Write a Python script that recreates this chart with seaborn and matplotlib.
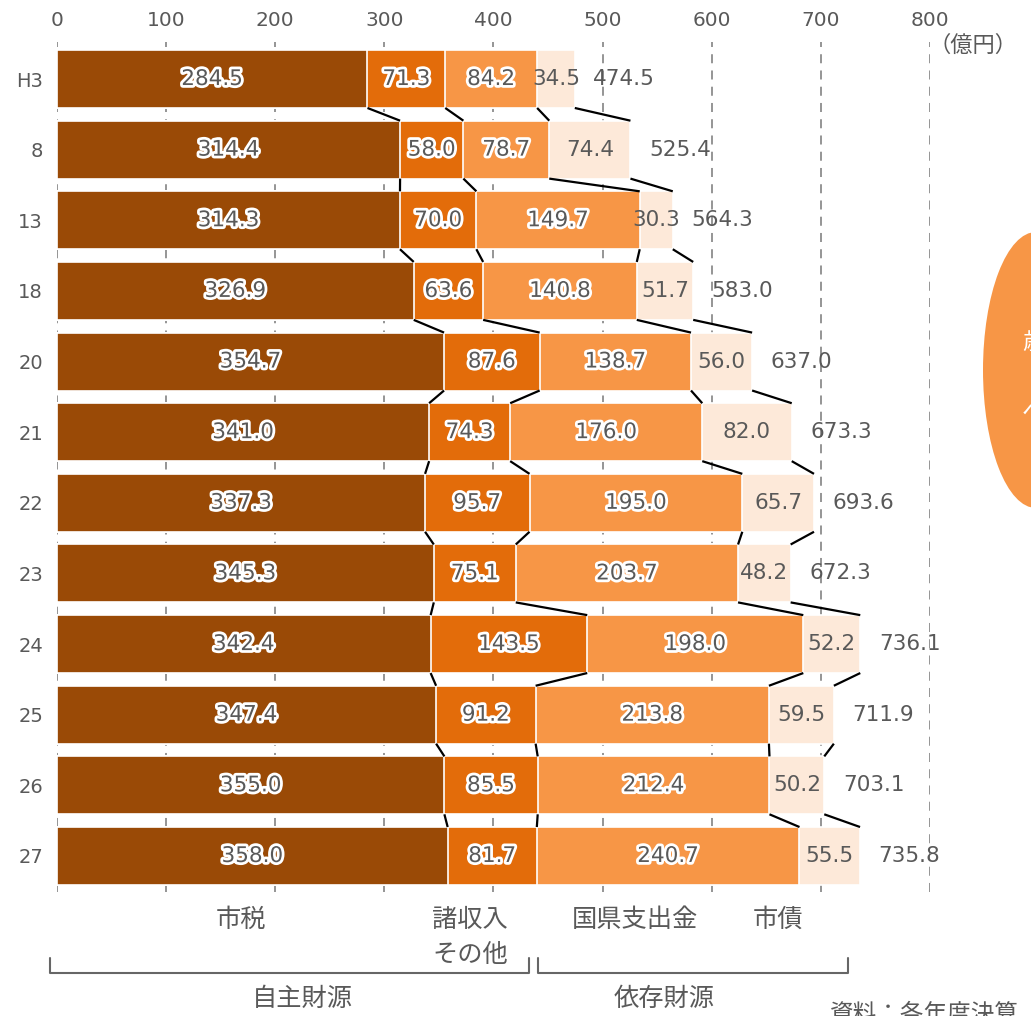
import matplotlib
matplotlib.use("Agg")
import matplotlib.pyplot as plt
import matplotlib.patheffects as pe
from matplotlib.patches import Ellipse
from matplotlib.lines import Line2D
import seaborn as sns
import pandas as pd
import numpy as np

# ---- data ----
years = ["H3", "8", "13", "18", "20", "21", "22", "23", "24", "25", "26", "27"]
shizei = [284.5, 314.4, 314.3, 326.9, 354.7, 341.0, 337.3, 345.3, 342.4, 347.4, 355.0, 358.0]
shoshunyu = [71.3, 58.0, 70.0, 63.6, 87.6, 74.3, 95.7, 75.1, 143.5, 91.2, 85.5, 81.7]
kokken = [84.2, 78.7, 149.7, 140.8, 138.7, 176.0, 195.0, 203.7, 198.0, 213.8, 212.4, 240.7]
shisai = [34.5, 74.4, 30.3, 51.7, 56.0, 82.0, 65.7, 48.2, 52.2, 59.5, 50.2, 55.5]
totals = [474.5, 525.4, 564.3, 583.0, 637.0, 673.3, 693.6, 672.3, 736.1, 711.9, 703.1, 735.8]
x_ticks = [0, 100, 200, 300, 400, 500, 600, 700, 800]

series = [shizei, shoshunyu, kokken, shisai]
colors = ["#9A4A06", "#E36C0A", "#F79646", "#FDE9D9"]

sns.set_theme(style="white")
plt.rcParams['font.family'] = ['DejaVu Sans', 'Noto Sans CJK JP']
CJK = ['Noto Sans CJK JP', 'DejaVu Sans']
TXT = "#595959"

W, H = 1031, 1016
fig = plt.figure(figsize=(W / 100, H / 100), dpi=100)
ax_left, ax_right = 57, 930
ax_top, ax_bottom = 42, 892
ax = fig.add_axes([ax_left / W, 1 - ax_bottom / H, (ax_right - ax_left) / W, (ax_bottom - ax_top) / H])

cums = np.cumsum(np.array(series), axis=0)  # 4 x 12
df = pd.DataFrame({"year": years})
bar_h = 0.82
for k in range(3, -1, -1):
    df["v"] = cums[k]
    sns.barplot(data=df, x="v", y="year", order=years, orient="h", color=colors[k],
                saturation=1, width=bar_h, edgecolor="white", linewidth=1.2, ax=ax, zorder=2)

# grid
ax.set_xlim(0, 800)
ax.set_ylim(11 + (ax_bottom - 856) / 70.6, -(79 - ax_top) / 70.6)
ax.set_xticks(x_ticks)
ax.xaxis.tick_top()
ax.set_axisbelow(True)
ax.grid(False)
for xv in x_ticks:
    ax.axvline(xv, color="#8c8c8c", lw=1.3, linestyle=(0, (5, 4)), zorder=0)
for s in ax.spines.values():
    s.set_visible(False)
ax.tick_params(axis="x", length=0, labelsize=14.5, labelcolor=TXT, pad=9)
ax.tick_params(axis="y", length=0, labelsize=14, labelcolor=TXT, pad=10)
ax.set_xlabel("")
ax.set_ylabel("")

# connector lines
n = len(years)
for k in range(4):
    for i in range(n - 1):
        ax.plot([cums[k][i], cums[k][i + 1]], [i + bar_h / 2, i + 1 - bar_h / 2],
                color="black", lw=1.6, zorder=3, solid_capstyle="butt")

# labels
glow = [pe.withStroke(linewidth=4, foreground="white")]
for i in range(n):
    start = 0
    for k in range(4):
        v = series[k][i]
        ax.text(start + v / 2, i, f"{v:.1f}", ha="center", va="center", fontsize=15.5,
                color=TXT, path_effects=glow if k < 3 else None, zorder=5)
        start += v
    ax.text(cums[3][i] + 17, i, f"{totals[i]:.1f}", ha="left", va="center",
            fontsize=15.5, color=TXT, zorder=5)

# unit
fig.text(928 / W, 1 - 45 / H, "（億円）", ha="left", va="center", fontsize=16, color=TXT, family=CJK)

# bottom category labels
def ftext(x, y, s, **kw):
    fig.text(x / W, 1 - y / H, s, ha="center", va="center", fontsize=18.2, color=TXT, family=CJK, **kw)

ftext(241, 920, "市税")
ftext(470, 920, "諸収入")
ftext(470, 955, "その他")
ftext(635, 920, "国県支出金")
ftext(778, 920, "市債")
ftext(302, 999, "自主財源")
ftext(664, 999, "依存財源")
fig.text(830 / W, 1 - 1003 / H, "資料：各年度決算", ha="left", va="top", fontsize=17, color=TXT, family=CJK)

# brackets
def bracket(x0, x1, y0=958, y1=973):
    xs = [x0, x0, x1, x1]
    ys = [y0, y1, y1, y0]
    fig.add_artist(Line2D([x / W for x in xs], [1 - y / H for y in ys], color="#666666", lw=1.5,
                          transform=fig.transFigure))

bracket(50, 529)
bracket(538, 848)

# callout ellipse (partially off canvas)
fig.add_artist(Ellipse((1036 / W, 1 - 370 / H), 106 / W, 276 / H, transform=fig.transFigure,
                       facecolor="#F79646", edgecolor="none"))
fig.text(1022 / W, 1 - 343 / H, "歳入", ha="left", va="center", fontsize=17, color="white", family=CJK)
fig.text(1022 / W, 1 - 412 / H, "へ", ha="left", va="center", fontsize=17, color="white", family=CJK)

fig.savefig("out.png", dpi=100)
